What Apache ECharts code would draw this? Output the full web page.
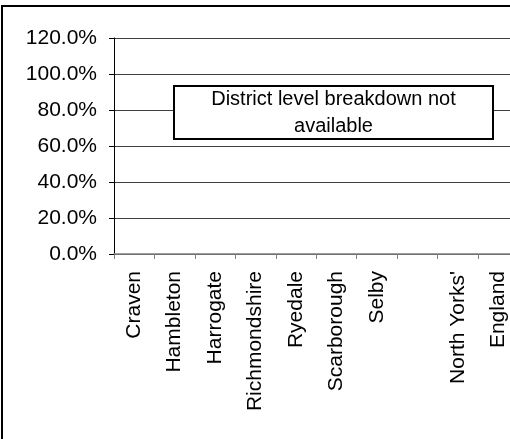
<!DOCTYPE html>
<html>
<head>
<meta charset="utf-8">
<script src="https://cdn.jsdelivr.net/npm/echarts@6/dist/echarts.min.js"></script>
<style>
html,body{margin:0;padding:0;overflow:hidden;background:#fff;width:510px;height:439px;}
#c{width:540px;height:470px;}
</style>
</head>
<body>
<div id="c"></div>
<script>
var categories = ['Craven','Hambleton','Harrogate','Richmondshire','Ryedale','Scarborough','Selby','','North Yorks\'','England'];
var values = [null,null,null,null,null,null,null,null,null,null];
var yTicks = [0,0.2,0.4,0.6,0.8,1.0,1.2];
var noteLines = ['District level breakdown not','available'];

var FONT = '"Liberation Sans", Arial, sans-serif';
var chart = echarts.init(document.getElementById('c'), null, {renderer:'canvas'});
chart.setOption({
  animation:false,
  backgroundColor:'#fff',
  grid:{left:114, top:38, width:404.5, height:216, containLabel:false},
  xAxis:{
    type:'category', data:categories,
    axisLine:{show:true, lineStyle:{color:'#808080', width:1.5}},
    axisTick:{show:true, inside:false, length:5, alignWithLabel:false, lineStyle:{color:'#808080', width:1}},
    axisLabel:{interval:0, rotate:90, margin:17, color:'#000', fontSize:21, fontFamily:FONT},
    splitLine:{show:false}
  },
  yAxis:{
    type:'value', min:yTicks[0], max:yTicks[yTicks.length-1], interval:0.2,
    axisLine:{show:true, lineStyle:{color:'#000', width:1}},
    axisTick:{show:true, length:5, lineStyle:{color:'#000', width:1}},
    axisLabel:{margin:17, color:'#000', fontSize:21, fontFamily:FONT,
      formatter:function(v){return (v*100).toFixed(1)+'%';}},
    splitLine:{show:true, lineStyle:{color:'#404040', width:1}}
  },
  series:[{type:'bar', data:values, itemStyle:{color:'#333399'}}],
  graphic:[
    {type:'rect', shape:{x:2, y:6, width:700, height:700}, style:{fill:null, stroke:'#000', lineWidth:2}, z:100},
    {type:'rect', shape:{x:174, y:86, width:319, height:53}, style:{fill:'#fff', stroke:'#000', lineWidth:2}, z:100},
    {type:'text', x:333.5, y:112.5, z:101,
      style:{text:noteLines.join('\n'), fill:'#000', font:'20px '+FONT, align:'center', verticalAlign:'middle', lineHeight:27}}
  ]
});
</script>
</body>
</html>
